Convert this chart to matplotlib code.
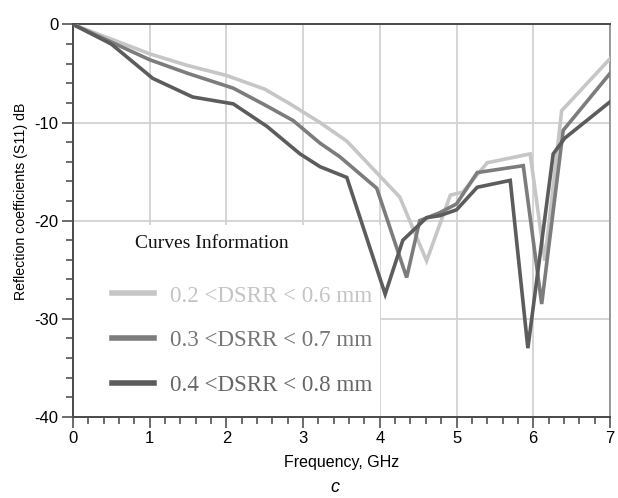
import matplotlib
matplotlib.use("Agg")
import matplotlib.pyplot as plt
from matplotlib.patches import Rectangle
from matplotlib.ticker import MultipleLocator

# data
freq_02 = [0, 0.5, 1.0, 1.5, 2.0, 2.5, 2.83, 3.22, 3.57, 4.26, 4.61, 4.92, 5.08, 5.40, 5.96, 6.15, 6.37, 7.0]
s11_02 = [0, -1.5, -3.0, -4.2, -5.2, -6.6, -8.1, -10.0, -11.9, -17.6, -24.1, -17.4, -17.1, -14.1, -13.2, -24.1, -8.8, -3.5]

freq_03 = [0, 0.5, 1.0, 1.5, 2.09, 2.5, 2.87, 3.22, 3.48, 3.96, 4.35, 4.52, 4.78, 5.0, 5.27, 5.87, 6.11, 6.39, 7.0]
s11_03 = [0, -1.8, -3.6, -5.0, -6.5, -8.2, -9.8, -12.1, -13.5, -16.7, -25.8, -20.0, -19.2, -18.3, -15.1, -14.4, -28.5, -10.8, -5.0]

freq_04 = [0, 0.5, 1.04, 1.56, 2.09, 2.53, 2.96, 3.22, 3.57, 4.07, 4.3, 4.61, 4.78, 5.0, 5.27, 5.70, 5.93, 6.26, 6.41, 7.0]
s11_04 = [0, -2.0, -5.5, -7.4, -8.1, -10.4, -13.2, -14.5, -15.6, -27.5, -22.0, -19.7, -19.5, -18.9, -16.6, -15.9, -33.0, -13.2, -11.6, -7.9]

labels = ["0.2 <DSRR < 0.6 mm", "0.3 <DSRR < 0.7 mm", "0.4 <DSRR < 0.8 mm"]
line_colors = ["#c6c6c6", "#7c7c7c", "#5c5c5c"]
text_colors = ["#c4c4c4", "#757575", "#666666"]

plt.rcParams["font.family"] = ["Liberation Sans", "DejaVu Sans"]
plt.rcParams["axes.unicode_minus"] = False

fig = plt.figure(figsize=(6.18, 4.98), dpi=100)
ax = fig.add_axes([0.118, 0.163, 0.869, 0.788])

series = [(freq_02, s11_02), (freq_03, s11_03), (freq_04, s11_04)]
handles = []
for (f, s), c, lab in zip(series, line_colors, labels):
    h, = ax.plot(f, s, color=c, lw=2.6, label=lab, zorder=3, solid_joinstyle="miter")
    handles.append(h)

ax.set_xlim(0, 7)
ax.set_ylim(-40, 0)
ax.xaxis.set_major_locator(MultipleLocator(1))
ax.xaxis.set_minor_locator(MultipleLocator(0.2))
ax.yaxis.set_major_locator(MultipleLocator(10))
ax.yaxis.set_minor_locator(MultipleLocator(2))
ax.grid(True, which="major", color="#d2d2d2", lw=1.3)
ax.set_axisbelow(True)

# white box under the legend hides the grid there
ax.add_patch(Rectangle((0, -40), 4, 19.6, facecolor="white", edgecolor="none", zorder=1))

ax.tick_params(which="major", direction="out", length=8, width=1.1, color="#444444",
               labelsize=12, pad=2.5)
ax.tick_params(which="minor", direction="out", length=5, width=1.1, color="#444444")
for side in ["left", "bottom", "top"]:
    ax.spines[side].set_color("#4a4a4a")
    ax.spines[side].set_linewidth(1.4)
ax.spines["right"].set_color("#8a8a8a")
ax.spines["right"].set_linewidth(1.2)

ax.set_xlabel("Frequency, GHz", fontsize=11.5, labelpad=6)
ax.set_ylabel("Reflection coefficients (S11) dB", fontsize=10.2)
ax.yaxis.set_label_coords(-0.083, 0.548)
fig.text(0.542, 0.022, "c", fontsize=13, style="italic", ha="center", va="center")

ax.text(0.81, -22.3, "Curves Information", family="Liberation Serif", fontsize=14,
        color="#111111", va="center", ha="left", zorder=4)
leg = ax.legend(handles=handles, loc="upper left", bbox_to_anchor=(0.51, -26.6),
                bbox_transform=ax.transData, frameon=False, borderpad=0, borderaxespad=0,
                handlelength=1.8, handletextpad=0.72, labelspacing=1.02,
                prop={"family": "Liberation Serif", "size": 16.6})
for t, c in zip(leg.get_texts(), text_colors):
    t.set_color(c)
for ln in leg.get_lines():
    ln.set_linewidth(4)

fig.savefig("out.png", dpi=100)
